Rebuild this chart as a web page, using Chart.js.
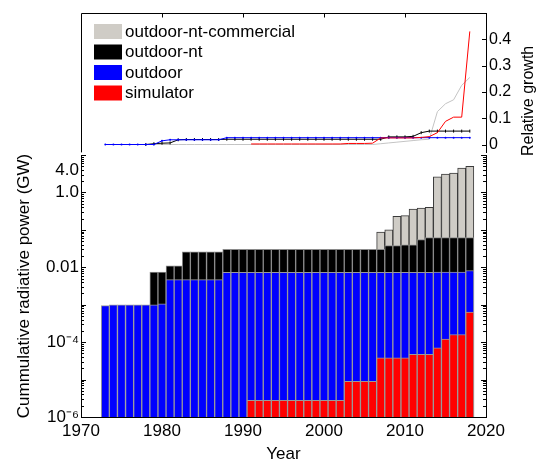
<!DOCTYPE html>
<html>
<head>
<meta charset="utf-8">
<script src="https://cdn.jsdelivr.net/npm/chart.js@4.4.1/dist/chart.umd.min.js"></script>
<style>
  html, body { margin: 0; padding: 0; background: #fff; }
  #wrap { position: relative; width: 544px; height: 463px; }
  .panel { position: absolute; left: 0; width: 544px; }
  #bottomPanel { top: 140px; height: 323px; }
  #topPanel { top: 0; height: 165px; }
</style>
</head>
<body>
<div id="wrap">
  <div class="panel" id="bottomPanel"><canvas id="powerChart"></canvas></div>
  <div class="panel" id="topPanel"><canvas id="growthChart"></canvas></div>
</div>
<script>
// Years shown as bars / line points
const years = [
  1973, 1974, 1975, 1976, 1977, 1978, 1979, 1980, 1981, 1982,
  1983, 1984, 1985, 1986, 1987, 1988, 1989, 1990, 1991, 1992,
  1993, 1994, 1995, 1996, 1997, 1998, 1999, 2000, 2001, 2002,
  2003, 2004, 2005, 2006, 2007, 2008, 2009, 2010, 2011, 2012,
  2013, 2014, 2015, 2016, 2017, 2018
];

// Legend order (top to bottom)
const seriesNames = ['outdoor-nt-commercial', 'outdoor-nt', 'outdoor', 'simulator'];
const seriesColors = ['#cfccc6', '#000000', '#0000ff', '#ff0000'];

// Cumulative radiative power (GW), one value per year
const commercialPower = [
  null, null, null, null, null, null, null, null, null, null,
  null, null, null, null, null, null, null, null, null, null,
  null, null, null, null, null, null, null, null, null, null,
  null, null, null, null, 0.087, 0.10, 0.23, 0.24, 0.36, 0.38,
  0.40, 2.6, 3.1, 3.3, 4.5, 5.0
];
const ntPower = [
  null, null, null, null, null, null, 0.0074, 0.0074, 0.011, 0.011,
  0.026, 0.026, 0.026, 0.026, 0.026, 0.030, 0.030, 0.030, 0.030, 0.030,
  0.030, 0.030, 0.030, 0.030, 0.030, 0.030, 0.030, 0.030, 0.030, 0.030,
  0.030, 0.030, 0.030, 0.030, 0.030, 0.038, 0.038, 0.040, 0.040, 0.055,
  0.062, 0.062, 0.062, 0.062, 0.062, 0.062
];
const outdoorPower = [
  0.00095, 0.001, 0.001, 0.001, 0.001, 0.001, 0.001, 0.00105, 0.0047, 0.0047,
  0.0047, 0.0047, 0.0047, 0.0047, 0.0047, 0.0073, 0.0073, 0.0073, 0.0073, 0.0073,
  0.0073, 0.0073, 0.0073, 0.0073, 0.0073, 0.0073, 0.0073, 0.0073, 0.0073, 0.0073,
  0.0073, 0.0073, 0.0073, 0.0073, 0.0073, 0.0073, 0.0073, 0.0073, 0.0073, 0.0073,
  0.0073, 0.0075, 0.0075, 0.0075, 0.0075, 0.0082
];
const simulatorPower = [
  null, null, null, null, null, null, null, null, null, null,
  null, null, null, null, null, null, null, null, 2.8e-6, 2.8e-6,
  2.8e-6, 2.8e-6, 2.8e-6, 2.8e-6, 2.8e-6, 2.8e-6, 2.8e-6, 2.8e-6, 2.8e-6, 2.8e-6,
  9e-6, 9e-6, 9e-6, 9e-6, 3.8e-5, 3.8e-5, 3.8e-5, 3.8e-5, 4.7e-5, 4.7e-5,
  4.7e-5, 7e-5, 1.2e-4, 1.6e-4, 1.6e-4, 6.4e-4
];

// Relative growth, one value per year
const commercialGrowth = [
  0, 0, 0, 0, 0, 0, 0, 0, 0, 0,
  0, 0, 0, 0, 0, 0, 0, 0, 0, 0,
  0, 0, 0, 0, 0, 0, 0, 0, 0, 0,
  0, 0, 0, 0, 0.003, 0.006, 0.009, 0.012, 0.015, 0.018,
  0.02, 0.125, 0.155, 0.17, 0.225, 0.255
];
const ntGrowth = [
  null, null, null, null, null, 0, 0.003, 0.005, 0.006, 0.018,
  0.019, 0.019, 0.019, 0.019, 0.019, 0.020, 0.020, 0.020, 0.020, 0.020,
  0.020, 0.020, 0.020, 0.020, 0.020, 0.020, 0.020, 0.020, 0.020, 0.020,
  0.020, 0.020, 0.020, 0.020, 0.020, 0.029, 0.029, 0.029, 0.031, 0.045,
  0.051, 0.051, 0.051, 0.051, 0.051, 0.051
];
const outdoorGrowth = [
  0, 0, 0, 0, 0, 0, 0, 0.014, 0.018, 0.018,
  0.018, 0.018, 0.018, 0.018, 0.018, 0.026, 0.026, 0.026, 0.026, 0.026,
  0.026, 0.026, 0.026, 0.026, 0.026, 0.026, 0.026, 0.026, 0.026, 0.026,
  0.026, 0.026, 0.026, 0.026, 0.026, 0.026, 0.026, 0.026, 0.026, 0.026,
  0.026, 0.026, 0.026, 0.026, 0.026, 0.026
];
const simulatorGrowth = [
  null, null, null, null, null, null, null, null, null, null,
  null, null, null, null, null, null, null, null, 0.002, 0.002,
  0.002, 0.002, 0.002, 0.002, 0.002, 0.002, 0.002, 0.002, 0.002, 0.002,
  0.004, 0.004, 0.004, 0.005, 0.025, 0.025, 0.025, 0.025, 0.025, 0.027,
  0.03, 0.045, 0.088, 0.104, 0.104, 0.43
];

// Tick values and labels
const yearTicks = [1970, 1980, 1990, 2000, 2010, 2020];
const powerTicks = [1e-6, 1e-4, 1e-2, 1, 4];
const powerTickLabels = ['10\u207B\u2076', '10\u207B\u2074', '0.01', '1.0', '4.0'];
const growthTicks = [0, 0.1, 0.2, 0.3, 0.4];
const growthTickLabels = ['0', '0.1', '0.2', '0.3', '0.4'];

const fontFamily = '"Liberation Sans", Arial, Helvetica, sans-serif';
Chart.defaults.font.family = fontFamily;
Chart.defaults.color = '#000';

// Frame, inward ticks, right title and legend for the growth panel
const growthFrame = {
  id: 'growthFrame',
  afterDraw(chart) {
    const { ctx, chartArea: a, scales: { x, y } } = chart;
    ctx.save();
    ctx.strokeStyle = '#000';
    ctx.lineWidth = 1;
    ctx.beginPath();
    const lx = Math.round(a.left) + 0.5;
    const ty = Math.round(a.top) + 0.5;
    ctx.moveTo(lx, a.bottom);
    ctx.lineTo(lx, ty);
    ctx.lineTo(a.right, ty);
    yearTicks.slice(1, -1).forEach(v => {
      const px = Math.round(x.getPixelForValue(v)) + 0.5;
      ctx.moveTo(px, ty);
      ctx.lineTo(px, ty + 4);
    });
    growthTicks.forEach(v => {
      const py = Math.round(y.getPixelForValue(v)) + 0.5;
      ctx.moveTo(a.right, py);
      ctx.lineTo(a.right - 4, py);
    });
    ctx.stroke();

    // legend inside the plot
    ctx.font = '17px ' + fontFamily;
    ctx.textBaseline = 'middle';
    ctx.textAlign = 'left';
    seriesNames.forEach((name, i) => {
      const top = a.top + 11 + i * 20.5;
      ctx.fillStyle = seriesColors[i];
      ctx.fillRect(a.left + 13, top, 28, 15);
      ctx.fillStyle = '#000';
      ctx.fillText(name, a.left + 44, top + 8);
    });

    // right axis title, reading bottom to top
    const midY = (y.getPixelForValue(0) + y.getPixelForValue(0.4)) / 2 + 9;
    ctx.font = '16px ' + fontFamily;
    ctx.textAlign = 'center';
    ctx.translate(a.right + 43, midY);
    ctx.rotate(-Math.PI / 2);
    ctx.fillText('Relative growth', 0, 0);
    ctx.restore();
  }
};

// Right border and log ticks (inward) for the power panel
const powerFrame = {
  id: 'powerFrame',
  afterDraw(chart) {
    const { ctx, chartArea: a, scales: { y } } = chart;
    ctx.save();
    ctx.strokeStyle = '#000';
    ctx.lineWidth = 1;
    ctx.beginPath();
    const rx = Math.round(a.right) + 0.5;
    ctx.moveTo(rx, a.top);
    ctx.lineTo(rx, a.bottom);
    const tickAt = (v, len) => {
      const py = Math.round(y.getPixelForValue(v)) + 0.5;
      ctx.moveTo(a.left, py);
      ctx.lineTo(a.left + len, py);
      ctx.moveTo(a.right, py);
      ctx.lineTo(a.right - len, py);
    };
    for (let e = -6; e <= 0; e++) {
      for (let m = 1; m <= 9; m++) {
        tickAt(m * Math.pow(10, e), m === 1 ? 5 : 3);
      }
    }
    tickAt(10, 5);
    ctx.stroke();
    ctx.restore();
  }
};

// Bottom panel: cumulative power, bars overlap (not stacked) on a log axis
const barBase = {
  grouped: false,
  categoryPercentage: 1,
  barPercentage: 1,
  borderWidth: 1
};

new Chart(document.getElementById('powerChart'), {
  type: 'bar',
  data: {
    labels: years,
    datasets: [
      { ...barBase, label: seriesNames[3], data: simulatorPower, backgroundColor: seriesColors[3], borderColor: '#9a9a9a' },
      { ...barBase, label: seriesNames[2], data: outdoorPower, backgroundColor: seriesColors[2], borderColor: '#9a9a9a' },
      { ...barBase, label: seriesNames[1], data: ntPower, backgroundColor: seriesColors[1], borderColor: '#8a8a8a' },
      { ...barBase, label: seriesNames[0], data: commercialPower, backgroundColor: seriesColors[0], borderColor: '#3a3a3a' }
    ]
  },
  options: {
    responsive: true,
    maintainAspectRatio: false,
    animation: false,
    layout: { padding: { top: 15, right: 58, left: 0, bottom: 0 } },
    scales: {
      x: {
        type: 'linear',
        min: 1970,
        max: 2020,
        offset: false,
        afterBuildTicks: s => { s.ticks = yearTicks.map(v => ({ value: v })); },
        afterFit: s => { s.height = 46; },
        ticks: {
          callback: v => String(v),
          padding: 4,
          maxRotation: 0,
          autoSkip: false,
          font: { size: 17 }
        },
        grid: { display: false, drawTicks: false, offset: false },
        border: { color: '#000' },
        title: {
          display: true,
          text: 'Year',
          font: { size: 17, lineHeight: 1 },
          padding: 0
        }
      },
      y: {
        type: 'logarithmic',
        min: 1e-6,
        max: 10,
        afterBuildTicks: s => { s.ticks = powerTicks.map(v => ({ value: v })); },
        afterFit: s => { s.width = 81; },
        ticks: {
          callback: (v, i) => powerTickLabels[i],
          padding: 2,
          autoSkip: false,
          font: { size: 17, lineHeight: 1 }
        },
        grid: { display: false, drawTicks: false },
        border: { color: '#000' },
        title: {
          display: true,
          text: 'Cummulative radiative power (GW)',
          font: { size: 17, lineHeight: 1 },
          padding: { top: 16, bottom: 0 }
        }
      }
    },
    plugins: {
      legend: { display: false },
      tooltip: { enabled: false }
    }
  },
  plugins: [powerFrame]
});

// Top panel: relative growth lines
new Chart(document.getElementById('growthChart'), {
  type: 'line',
  data: {
    labels: years,
    datasets: [
      { label: seriesNames[3], data: simulatorGrowth, borderColor: seriesColors[3], borderWidth: 1, pointRadius: 0 },
      { label: seriesNames[2], data: outdoorGrowth, borderColor: seriesColors[2], borderWidth: 1,
        pointRadius: 1, pointBorderWidth: 0, pointBackgroundColor: seriesColors[2] },
      { label: seriesNames[1], data: ntGrowth, borderColor: seriesColors[1], borderWidth: 1,
        pointStyle: 'line', rotation: 90, pointRadius: 1.5, pointBorderWidth: 1, pointBorderColor: seriesColors[1] },
      { label: seriesNames[0], data: commercialGrowth, borderColor: '#c4c4c4', borderWidth: 1, pointRadius: 0 }
    ]
  },
  options: {
    responsive: true,
    maintainAspectRatio: false,
    animation: false,
    layout: { padding: { left: 81, top: 13, right: 0, bottom: 10 } },
    scales: {
      x: { type: 'linear', min: 1970, max: 2020, display: false },
      y: {
        position: 'right',
        min: -0.03,
        max: 0.5,
        afterBuildTicks: s => { s.ticks = growthTicks.map(v => ({ value: v })); },
        afterFit: s => { s.width = 58; },
        ticks: {
          callback: (v, i) => growthTickLabels[i],
          padding: 3,
          autoSkip: false,
          font: { size: 16 }
        },
        grid: { display: false, drawTicks: false },
        border: { color: '#000' }
      }
    },
    plugins: {
      legend: { display: false },
      tooltip: { enabled: false }
    }
  },
  plugins: [growthFrame]
});
</script>
</body>
</html>
